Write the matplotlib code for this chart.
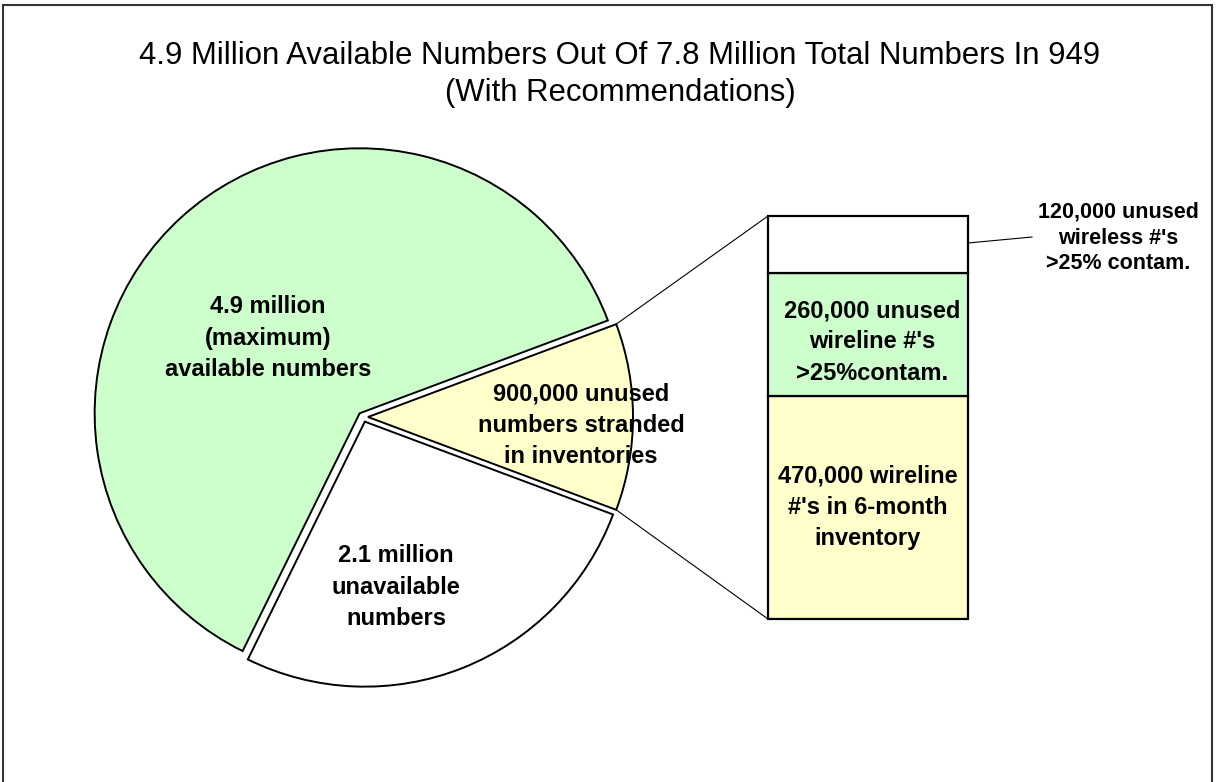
import numpy as np
import matplotlib.pyplot as plt
from matplotlib.patches import Rectangle

# pie: stranded, available, unavailable (millions)
pie_labels = ['900,000 unused\nnumbers stranded\nin inventories',
              '4.9 million\n(maximum)\navailable numbers',
              '2.1 million\nunavailable\nnumbers']
pie_values = [0.9, 4.9, 2.1]
pie_colors = ['#FFFFCC', '#CCFFCC', '#FFFFFF']

# breakdown of the stranded numbers, bottom to top
bar_labels = ["470,000 wireline\n#'s in 6-month\ninventory",
              "260,000 unused\nwireline #'s\n>25%contam.",
              "120,000 unused\nwireless #'s\n>25% contam."]
bar_values = [470000, 260000, 120000]
bar_colors = ['#FFFFCC', '#CCFFCC', '#FFFFFF']

W, H = 1217, 782
fig = plt.figure(figsize=(W / 100, H / 100), dpi=100)

# stacked bar for the stranded slice (drawn underneath the main layer)
bx0, bx1, by0, by1 = 768, 968, 619, 216
bax = fig.add_axes([bx0 / W, (H - by0) / H, (bx1 - bx0) / W, (by0 - by1) / H])
bottoms = np.concatenate([[0], np.cumsum(bar_values)[:-1]])
bars = bax.bar([0.5] * 3, bar_values, width=1.0, bottom=bottoms, color=bar_colors,
               edgecolor='black', linewidth=1.6)
for b in bars:
    b.set_clip_on(False)
bax.set_xlim(0, 1)
bax.set_ylim(0, sum(bar_values))
bax.axis('off')
bax.set_zorder(0)

ax = fig.add_axes([0, 0, 1, 1])
ax.set_zorder(1)

cx, cy, r = 363, H - 417, 265
start = -pie_values[0] / sum(pie_values) * 180
expl = 5  # offset in pixels
wedges, _ = ax.pie(pie_values, colors=pie_colors, startangle=start,
                   center=(cx, cy), radius=r, explode=[expl] * 3,
                   wedgeprops=dict(edgecolor='black', linewidth=1.4))
ax.set_xlim(0, W)
ax.set_ylim(0, H)
ax.set_aspect('auto')
ax.axis('off')

font = ['Liberation Sans', 'DejaVu Sans']
kw = dict(ha='center', va='center', fontsize=17, fontweight='bold',
          family=font, linespacing=1.45)
ax.text(581, H - 425, pie_labels[0], **kw)
ax.text(268, H - 338, pie_labels[1], **kw)
ax.text(396, H - 587, pie_labels[2], **kw)

ax.text(868, H - 507, bar_labels[0], **kw)
ax.text(872, H - 342, bar_labels[1], **kw)
ax.text(1118, H - 238, bar_labels[2], ha='center', va='center', fontsize=15.5,
        fontweight='bold', family=font, linespacing=1.3)

# connectors from the stranded slice to the bar
th = np.deg2rad(-start)
ox = cx + expl
for sgn, ty in [(1, by1), (-1, by0)]:
    px = ox + r * np.cos(th)
    py = cy + sgn * r * np.sin(th)
    ax.plot([px, bx0], [py, H - ty], color='black', linewidth=0.8)
ax.plot([bx1, 1032], [H - 243, H - 237], color='black', linewidth=0.8)

ax.text(620, H - 56, '4.9 Million Available Numbers Out Of 7.8 Million Total Numbers In 949',
        ha='center', va='center', fontsize=22.4, family=font)
ax.text(620, H - 93, '(With Recommendations)',
        ha='center', va='center', fontsize=22.4, family=font)

# outer chart border
ax.add_patch(Rectangle((3, -20), 1209, H - 5 + 20, fill=False,
                       edgecolor='#333333', linewidth=1.5))

fig.savefig('out.png', dpi=100)
